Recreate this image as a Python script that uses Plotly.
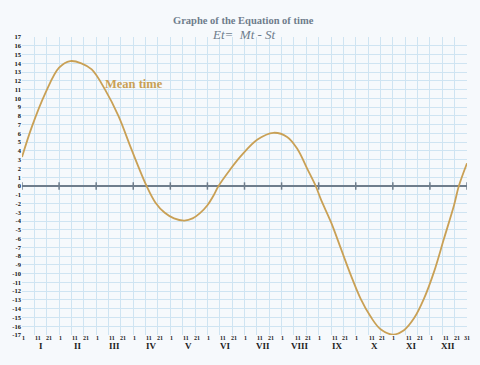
import plotly.graph_objects as go

# Curve: "Mean time" relative to solar time (month units, minutes)
months_x = [0.0, 0.27, 0.63, 1.0, 1.3, 1.6, 1.88, 2.24, 2.6, 2.95, 3.36, 3.6, 3.85, 4.1, 4.38,
            4.6, 4.8, 5.0, 5.15, 5.3, 5.6, 5.9, 6.35, 6.78, 7.15, 7.43, 7.7, 7.92, 8.06, 8.33,
            8.6, 8.87, 9.13, 9.4, 9.67, 10.0, 10.3, 10.57, 10.84, 11.11, 11.38, 11.65, 11.78, 12.0]
mean_time = [3.3, 6.8, 10.6, 13.5, 14.25, 14.0, 13.3, 11.0, 8.0, 4.2, 0.0, -1.9, -3.06, -3.7, -3.94,
             -3.7, -3.1, -2.2, -1.2, 0.0, 1.8, 3.4, 5.3, 6.07, 5.6, 4.2, 1.9, 0.0, -1.53, -4.1,
             -7.15, -10.2, -12.85, -14.9, -16.35, -16.95, -16.45, -15.1, -12.85, -9.8, -6.0, -2.2, 0.0, 2.6]

month_labels = ["I", "II", "III", "IV", "V", "VI", "VII", "VIII", "IX", "X", "XI", "XII"]
day_labels = ["1", "11", "21"]
day_offsets = [0.03, 0.43, 0.72]
y_ticks = list(range(-17, 18))

GOLD = "#c9a055"
GRAY = "#6f7d8c"
SERIF = "Liberation Serif"

fig = go.Figure()

# Solar time axis line
fig.add_trace(go.Scatter(x=[0, 12], y=[0, 0], mode="lines",
                         line=dict(color=GRAY, width=2), hoverinfo="skip", showlegend=False))
# month tick marks on solar axis
tx, ty = [], []
for m in range(13):
    tx += [m, m, None]
    ty += [-0.42, 0.42, None]
fig.add_trace(go.Scatter(x=tx, y=ty, mode="lines",
                         line=dict(color=GRAY, width=1.5), hoverinfo="skip", showlegend=False))

# Mean time curve
fig.add_trace(go.Scatter(x=months_x, y=mean_time, mode="lines",
                         line=dict(color=GOLD, width=1.8, shape="spline", smoothing=1.0),
                         showlegend=False))

ann = []
ann.append(dict(text="<b>Graphe of the Equation of time</b>", xref="paper", yref="paper",
                x=0.498, y=1.082, showarrow=False,
                font=dict(family=SERIF, size=10.5, color=GRAY)))
ann.append(dict(text="<i>Et=  Mt - St</i>", xref="paper", yref="paper",
                x=0.498, y=1.040, showarrow=False,
                font=dict(family=SERIF, size=13, color=GRAY)))
ann.append(dict(text="<b>Mean time</b>", x=3.02, y=11.6, xanchor="center", showarrow=False,
                font=dict(family=SERIF, size=12.5, color=GOLD)))
ann.append(dict(text="<b>Solar time</b>", x=-0.06, y=1.25, xanchor="left", showarrow=False,
                font=dict(family=SERIF, size=12, color=GRAY)))
for i, lab in enumerate(month_labels):
    ann.append(dict(text="<b>%s</b>" % lab, x=i + 0.5, xref="x", yref="paper", y=-0.060,
                    showarrow=False, font=dict(family=SERIF, size=9, color="#222")))
    for d, off in zip(day_labels, day_offsets):
        ann.append(dict(text="<b>%s</b>" % d, x=i + off, xref="x", yref="paper", y=-0.027,
                        showarrow=False, font=dict(family=SERIF, size=6, color="#222")))
ann.append(dict(text="<b>31</b>", x=12.0, xref="x", yref="paper", y=-0.027, showarrow=False,
                font=dict(family=SERIF, size=6, color="#222")))

fig.update_layout(
    width=480, height=365,
    margin=dict(l=20, r=13, t=37, b=30),
    paper_bgcolor="#f6f9fc", plot_bgcolor="#f6f9fc",
    annotations=ann,
    xaxis=dict(range=[0, 12], dtick=1/3, tick0=0, showticklabels=False,
               gridcolor="#cfe4f2", gridwidth=1, zeroline=False, showline=False, ticks=""),
    yaxis=dict(range=[-17, 17], tickvals=y_ticks, ticktext=["<b>%d</b>" % v for v in y_ticks],
               tickfont=dict(family=SERIF, size=6.5, color="#111"),
               gridcolor="#cfe4f2", gridwidth=1, zeroline=False, showline=False, ticks=""),
)

fig.write_html("out.html", config={"displayModeBar": False},
               post_script="document.body.style.margin='0';")
